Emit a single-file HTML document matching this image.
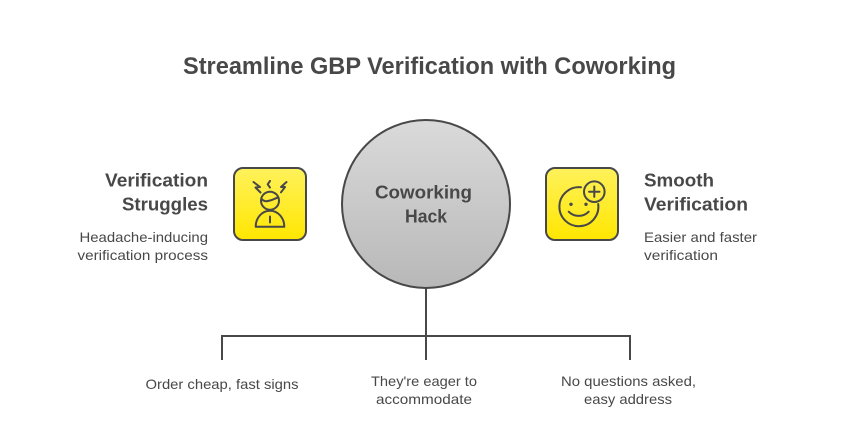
<!DOCTYPE html>
<html><head><meta charset="utf-8"><style>html,body{margin:0;padding:0;background:#fff;width:858px;height:445px;overflow:hidden}svg{display:block}text{font-family:"Liberation Sans",sans-serif;fill:#484848}.b{font-weight:700}</style></head><body>
<svg width="858" height="445" viewBox="0 0 858 445" xmlns="http://www.w3.org/2000/svg">
<defs>
<linearGradient id="g" x1="0" y1="0" x2="0" y2="1"><stop offset="0" stop-color="#dadada"/><stop offset="1" stop-color="#b8b8b8"/></linearGradient>
<linearGradient id="y" x1="0" y1="0" x2="0" y2="1"><stop offset="0" stop-color="#fff25c"/><stop offset="1" stop-color="#ffe600"/></linearGradient>
</defs>
<rect width="858" height="445" fill="#fff"/>
<text class="b" x="183" y="74" font-size="24" textLength="493" lengthAdjust="spacingAndGlyphs">Streamline GBP Verification with Coworking</text>
<g fill="none" stroke="#484848" stroke-width="2">
<path d="M426 288V360M222 360V336H630V360"/>
<circle cx="426" cy="204" r="84" fill="url(#g)"/>
<rect x="234" y="168" width="72" height="72" rx="9" fill="url(#y)"/>
<rect x="546" y="168" width="72" height="72" rx="9" fill="url(#y)"/>
<g stroke-width="2" stroke-linejoin="round" stroke-linecap="round">
<path d="M253.500 182l6.500 5-4.500 .5 5 5M270 181l-2.300 3.300 2.300 3.300M286.500 182l-5.500 5 4 0-4 5.300"/>
<circle cx="270" cy="200.700" r="9"/>
<path d="M261.500 199c3 3 5 2.500 8.500 1.500s5-2 8-3"/>
<path d="M255.700 226.700h28.600c0-8.500-6-16-14.300-16s-14.300 7.500-14.300 16zM270 216.500v6"/>
<path d="M581 187.300A19.500 19.500 0 1 0 598.200 204"/>
<circle cx="594.300" cy="191.700" r="10.300"/>
<path d="M594.300 186.500v10.400M589 191.700h10.500"/>
<path d="M568.700 211.700a14 14 0 0 0 20 0"/>
</g>
</g>
<circle cx="571" cy="204.300" r="1.700" fill="#484848"/>
<circle cx="586" cy="204.300" r="1.700" fill="#484848"/>
<g class="b" font-size="18">
<text class="b" x="375" y="198.500" textLength="97" lengthAdjust="spacingAndGlyphs">Coworking</text>
<text class="b" x="405" y="222.500" textLength="42" lengthAdjust="spacingAndGlyphs">Hack</text>
<text class="b" x="105" y="186.500" textLength="103" lengthAdjust="spacingAndGlyphs">Verification</text>
<text class="b" x="122" y="210.500" textLength="86" lengthAdjust="spacingAndGlyphs">Struggles</text>
<text class="b" x="644" y="186.500" textLength="70" lengthAdjust="spacingAndGlyphs">Smooth</text>
<text class="b" x="644" y="210.500" textLength="104" lengthAdjust="spacingAndGlyphs">Verification</text>
</g>
<g font-size="14">
<text x="79.500" y="242" textLength="128.500" lengthAdjust="spacingAndGlyphs">Headache-inducing</text>
<text x="77.500" y="260" textLength="130.500" lengthAdjust="spacingAndGlyphs">verification process</text>
<text x="644" y="242" textLength="113" lengthAdjust="spacingAndGlyphs">Easier and faster</text>
<text x="644" y="260" textLength="74" lengthAdjust="spacingAndGlyphs">verification</text>
<text x="145.500" y="389" textLength="153" lengthAdjust="spacingAndGlyphs">Order cheap, fast signs</text>
<text x="371" y="386" textLength="106" lengthAdjust="spacingAndGlyphs">They're eager to</text>
<text x="376" y="404" textLength="96" lengthAdjust="spacingAndGlyphs">accommodate</text>
<text x="561" y="386" textLength="135" lengthAdjust="spacingAndGlyphs">No questions asked,</text>
<text x="584" y="404" textLength="88" lengthAdjust="spacingAndGlyphs">easy address</text>
</g>
</svg>
</body></html>
